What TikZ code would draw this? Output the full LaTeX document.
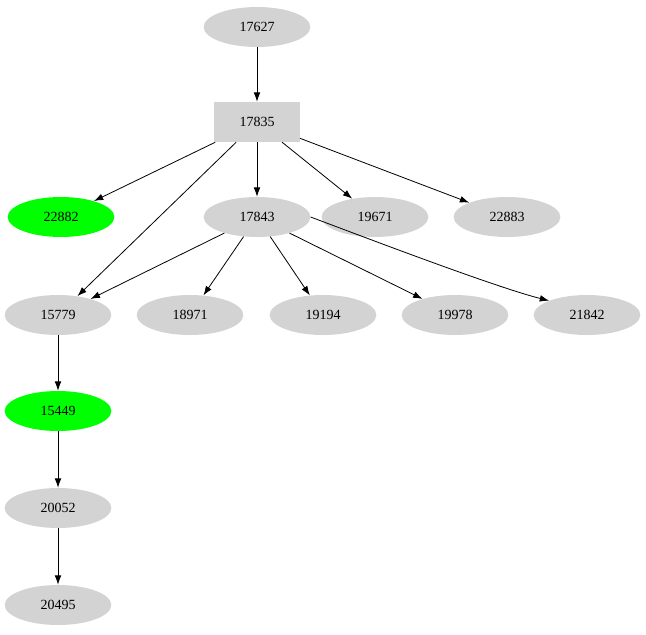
\documentclass[tikz,border=0pt]{standalone}
\usepackage{fontspec}
\setmainfont{Liberation Serif}
\usetikzlibrary{shapes.geometric, arrows.meta}
\definecolor{NodeGray}{HTML}{D3D3D3}
\definecolor{NodeGreen}{HTML}{00FF00}

\begin{document}
\begin{tikzpicture}[x=1pt, y=-1pt,
    oval/.style={ellipse, fill=NodeGray, minimum width=80pt, minimum height=30pt, inner sep=0pt, font=\fontsize{10.5}{12}\selectfont},
    hit/.style={oval, fill=NodeGreen},
    box/.style={rectangle, fill=NodeGray, minimum width=64pt, minimum height=30pt, font=\fontsize{10.5}{12}\selectfont},
    edge/.style={-{Latex[length=7pt,width=5pt]}, semithick}]
    \useasboundingbox (0,0) rectangle (484.5,476.25);
    \begin{scope}[x=0.75pt, y=-0.75pt]
        % Top
        \node[oval] (n17627) at (257,27) {17627};
        \node[box] (n17835) at (257,122) {17835};
        % Second row
        \node[hit] (n22882) at (61,217) {22882};
        \node[oval] (n17843) at (257,217) {17843};
        \node[oval] (n19671) at (375,217) {19671};
        \node[oval] (n22883) at (507,217) {22883};
        % Third row
        \node[oval] (n15779) at (58,315) {15779};
        \node[oval] (n18971) at (190,315) {18971};
        \node[oval] (n19194) at (323,315) {19194};
        \node[oval] (n19978) at (455,315) {19978};
        \node[oval] (n21842) at (587,315) {21842};
        % Chain
        \node[hit] (n15449) at (58,411) {15449};
        \node[oval] (n20052) at (58,508) {20052};
        \node[oval] (n20495) at (58,605) {20495};
    \end{scope}

    % Edges
    \draw[edge] (n17627) -- (n17835);
    \draw[edge] (n17835) -- (n22882);
    \draw[edge] (n17835) -- (n15779);
    \draw[edge] (n17835) -- (n17843);
    \draw[edge] (n17835) -- (n19671);
    \draw[edge] (n17835) -- (n22883);
    \draw[edge] (n17843) -- (n15779);
    \draw[edge] (n17843) -- (n18971);
    \draw[edge] (n17843) -- (n19194);
    \draw[edge] (n17843) -- (n19978);
    \draw[edge] (n17843.east) .. controls +(40pt,-15pt) and +(-40pt,10pt) .. (n21842.north west);
    \draw[edge] (n15779) -- (n15449);
    \draw[edge] (n15449) -- (n20052);
    \draw[edge] (n20052) -- (n20495);
\end{tikzpicture}
\end{document}
